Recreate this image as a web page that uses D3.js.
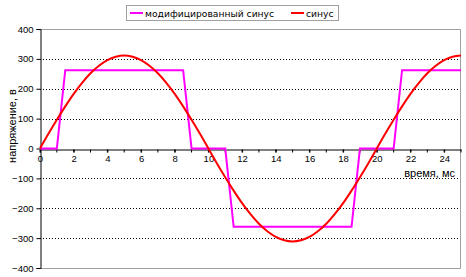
<!DOCTYPE html>
<html lang="ru">
<head>
<meta charset="UTF-8">
<title>синус</title>
<script src="https://cdn.jsdelivr.net/npm/d3@7/dist/d3.min.js"></script>
<style>
  body { margin: 0; background: #fff; }
  text { font-family: "Liberation Sans", Arial, sans-serif; }
</style>
</head>
<body>
<script>
// данные
var sinT = [0, 0.5, 1, 1.5, 2, 2.5, 3, 3.5, 4, 4.5, 5, 5.5, 6, 6.5, 7, 7.5, 8, 8.5, 9, 9.5,
            10, 10.5, 11, 11.5, 12, 12.5, 13, 13.5, 14, 14.5, 15, 15.5, 16, 16.5, 17, 17.5, 18, 18.5, 19, 19.5,
            20, 20.5, 21, 21.5, 22, 22.5, 23, 23.5, 24, 24.5, 25];
var sinV = [0, 49, 96, 141, 183, 220, 252, 277, 296, 307, 311, 307, 296, 277, 252, 220, 183, 141, 96, 49,
            0, -49, -96, -141, -183, -220, -252, -277, -296, -307, -311, -307, -296, -277, -252, -220, -183, -141, -96, -49,
            0, 49, 96, 141, 183, 220, 252, 277, 296, 307, 311];
var modT = [0, 1, 1.5, 8.5, 9, 11, 11.5, 18.5, 19, 21, 21.5, 25];
var modV = [0, 0, 262, 262, 0, 0, -262, -262, 0, 0, 262, 262];
var xTicks = [0, 2, 4, 6, 8, 10, 12, 14, 16, 18, 20, 22, 24];
var xMinor = [0, 1, 2, 3, 4, 5, 6, 7, 8, 9, 10, 11, 12, 13, 14, 15, 16, 17, 18, 19, 20, 21, 22, 23, 24, 25];
var yTicks = [-400, -300, -200, -100, 0, 100, 200, 300, 400];
var seriesNames = ["модифицированный синус", "синус"];
var seriesColors = ["#ff00ff", "#ff0000"];

var W = 466, H = 277;
var m = {left: 40, top: 29, right: 5, bottom: 9};
var w = W - m.left - m.right, h = H - m.top - m.bottom;

var svg = d3.select("body").append("svg").attr("width", W).attr("height", H);
var g = svg.append("g").attr("transform", "translate(" + m.left + "," + m.top + ")");

var x = d3.scaleLinear().domain([0, 25]).range([0, w]);
var y = d3.scaleLinear().domain([-400, 400]).range([h, 0]);

// сетка
g.selectAll(".grid").data(yTicks.filter(function(d){ return d != 0 && Math.abs(d) != 400; }))
  .enter().append("line")
  .attr("x1", 0).attr("x2", w)
  .attr("y1", function(d){ return Math.round(y(d)) + 0.5; })
  .attr("y2", function(d){ return Math.round(y(d)) + 0.5; })
  .attr("stroke", "#000").attr("stroke-dasharray", "1,2");

// рамка
g.append("path")
  .attr("d", "M0," + 0.5 + "H" + (Math.round(w) - 0.5) + "V" + (Math.round(h) + 0.5) + "H0")
  .attr("fill", "none").attr("stroke", "#a0a0a0");

// ось Y
var axY = g.append("g").attr("transform", "translate(0.5,0)")
  .call(d3.axisLeft(y).tickValues(yTicks).tickSize(4).tickPadding(3));
axY.select(".domain").attr("stroke", "#000");
axY.selectAll("text").attr("font-size", 9.5).attr("font-family", "Liberation Sans, Arial, sans-serif").attr("fill", "#000");

// ось X на нуле
var axX = g.append("g").attr("transform", "translate(0," + (Math.round(y(0)) + 0.5) + ")")
  .call(d3.axisBottom(x).tickValues(xTicks).tickSize(3).tickPadding(3).tickSizeOuter(0));
axX.selectAll("text").attr("font-size", 9.5).attr("font-family", "Liberation Sans, Arial, sans-serif").attr("fill", "#000");
axX.selectAll(".minor").data(xMinor).enter().append("line").attr("class", "minor")
  .attr("x1", function(d){ return x(d); }).attr("x2", function(d){ return x(d); })
  .attr("y1", 0).attr("y2", 3).attr("stroke", "#000");

// линии
var line = d3.line().x(function(d){ return x(d[0]); }).y(function(d){ return y(d[1]); });
g.append("path").datum(modT.map(function(t, i){ return [t, modV[i]]; }))
  .attr("d", line).attr("fill", "none").attr("stroke", seriesColors[0]).attr("stroke-width", 2);
g.append("path").datum(sinT.map(function(t, i){ return [t, sinV[i]]; }))
  .attr("d", line.curve(d3.curveMonotoneX)).attr("fill", "none").attr("stroke", seriesColors[1]).attr("stroke-width", 2);

// подписи осей
svg.append("text").attr("x", 455).attr("y", 177).attr("text-anchor", "end")
  .attr("font-size", 11).attr("fill", "#000").text("время, мс");
svg.append("text").attr("transform", "translate(16,126) rotate(-90)").attr("text-anchor", "middle")
  .attr("font-size", 11).attr("fill", "#000").text("напряжение, в");

// легенда
var lg = svg.append("g");
lg.append("rect").attr("x", 126.5).attr("y", 5.5).attr("width", 212).attr("height", 15)
  .attr("fill", "#fff").attr("stroke", "#a0a0a0");
var lx = [130, 291];
seriesNames.forEach(function(name, i){
  lg.append("line").attr("x1", lx[i]).attr("x2", lx[i] + 13).attr("y1", 13).attr("y2", 13)
    .attr("stroke", seriesColors[i]).attr("stroke-width", 2);
  lg.append("text").attr("x", lx[i] + 15).attr("y", 16.5).attr("font-size", 9.2)
    .style("font-family", "DejaVu Sans, sans-serif").attr("fill", "#000").text(name);
});
</script>
</body>
</html>
